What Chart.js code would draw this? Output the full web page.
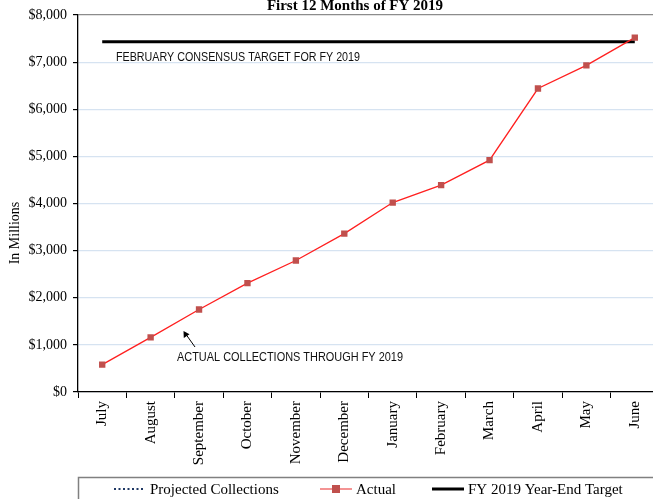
<!DOCTYPE html>
<html><head><meta charset="utf-8">
<script src="https://cdn.jsdelivr.net/npm/chart.js@4/dist/chart.umd.min.js"></script>
<style>html,body{margin:0;padding:0;background:#fff;overflow:hidden}#wrap{width:653px;height:499px;overflow:hidden;position:relative}canvas{display:block}</style>
</head><body><div id="wrap"><canvas id="c" width="665" height="499" style="width:665px;height:499px"></canvas></div>
<script>
const months = ["July","August","September","October","November","December","January","February","March","April","May","June"];
const actual = [580,1160,1750,2310,2790,3360,4020,4390,4920,6440,6930,7520];
const projected = [];
const yearEndTarget = [7430,7430,7430,7430,7430,7430,7430,7430,7430,7430,7430,7430];
const yTicks = [0,1000,2000,3000,4000,5000,6000,7000,8000];
const titleText = "First 12 Months of FY 2019";
const yTitle = "In Millions";
const noteTarget = "FEBRUARY CONSENSUS TARGET FOR FY 2019";
const noteActual = "ACTUAL COLLECTIONS THROUGH FY 2019";
const legendItems = ["Projected Collections","Actual","FY 2019 Year-End Target"];

const serif = '"Liberation Serif", "Times New Roman", serif';
const sans = '"Liberation Sans", Arial, sans-serif';

const extras = {
  id: 'extras',
  afterDraw(chart) {
    const ctx = chart.ctx;
    ctx.save();
    // title
    ctx.fillStyle = '#000';
    ctx.font = 'bold 15px ' + serif;
    ctx.textAlign = 'center';
    ctx.textBaseline = 'alphabetic';
    ctx.fillText(titleText, 355, 10);
    // y title
    ctx.save();
    ctx.translate(15, 233);
    ctx.rotate(-Math.PI/2);
    ctx.font = '14px ' + serif;
    ctx.textBaseline = 'middle';
    ctx.fillText(yTitle, 0, 0);
    ctx.restore();
    // notes
    ctx.font = '13px ' + sans;
    ctx.textAlign = 'left';
    ctx.textBaseline = 'middle';
    ctx.fillStyle = '#111';
    ctx.fillText(noteTarget, 116, 57, 244);
    ctx.fillText(noteActual, 177, 357, 226);
    // arrow
    ctx.strokeStyle = '#000';
    ctx.lineWidth = 1;
    ctx.beginPath();
    ctx.moveTo(195, 347);
    ctx.lineTo(185, 333);
    ctx.stroke();
    ctx.fillStyle = '#000';
    ctx.beginPath();
    ctx.moveTo(183.5, 331);
    ctx.lineTo(183.8, 338);
    ctx.lineTo(189.5, 334.2);
    ctx.closePath();
    ctx.fill();
    // legend box
    ctx.strokeStyle = '#808080';
    ctx.lineWidth = 1.5;
    ctx.strokeRect(78.5, 477.5, 640, 40);
    const ly = 489;
    ctx.font = '15px ' + serif;
    ctx.textBaseline = 'middle';
    ctx.fillStyle = '#000';
    // projected
    ctx.strokeStyle = '#1f3864';
    ctx.lineWidth = 2;
    ctx.setLineDash([2,2.5]);
    ctx.beginPath(); ctx.moveTo(114, ly); ctx.lineTo(144, ly); ctx.stroke();
    ctx.setLineDash([]);
    ctx.fillText(legendItems[0], 150, ly+1);
    // actual
    ctx.strokeStyle = '#f07070';
    ctx.lineWidth = 1.5;
    ctx.beginPath(); ctx.moveTo(320, ly); ctx.lineTo(352, ly); ctx.stroke();
    ctx.fillStyle = '#c0504d';
    ctx.fillRect(332, ly-4, 8, 8);
    ctx.fillStyle = '#000';
    ctx.fillText(legendItems[1], 356, ly+1);
    // target
    ctx.strokeStyle = '#000';
    ctx.lineWidth = 3;
    ctx.beginPath(); ctx.moveTo(432, ly); ctx.lineTo(464, ly); ctx.stroke();
    ctx.fillText(legendItems[2], 468, ly+1);
    ctx.restore();
  }
};

new Chart(document.getElementById('c'), {
  type: 'line',
  data: {
    labels: months,
    datasets: [
      { label: legendItems[0], data: projected, borderColor: '#1f3864', borderDash: [2,2], pointRadius: 0 },
      { label: legendItems[1], data: actual, borderColor: '#ff2020', borderWidth: 1.3, pointStyle: 'rect', pointRadius: 4.5, pointBackgroundColor: '#c0504d', pointBorderColor: '#c0504d', pointBorderWidth: 0, tension: 0, order: 1 },
      { label: legendItems[2], data: yearEndTarget, borderColor: '#000', borderWidth: 3, pointRadius: 0, tension: 0, order: 2 }
    ]
  },
  options: {
    responsive: false,
    animation: false,
    layout: { padding: { left: 0, top: 15, right: 6, bottom: 0 } },
    plugins: { legend: { display: false }, tooltip: { enabled: false } },
    scales: {
      x: {
        offset: true,
        grid: { offset: true, drawOnChartArea: false, drawTicks: true, tickLength: 6, color: '#000' },
        border: { color: '#000', width: 1.3 },
        ticks: { maxRotation: 90, minRotation: 90, autoSkip: false, color: '#000', font: { family: serif, size: 15 }, padding: 3 },
        afterFit(s) { s.height = 107; }
      },
      y: {
        min: 0, max: 8000,
        afterBuildTicks(s) { s.ticks = yTicks.map(v => ({ value: v })); },
        grid: { color: ctx => (ctx.tick && ctx.tick.value === 8000) ? '#8c8c8c' : '#d6e3f1', lineWidth: 1.2, tickColor: '#000', tickLength: 5 },
        border: { color: '#000', width: 1.3 },
        ticks: { color: '#000', font: { family: serif, size: 14 }, padding: 6, callback: v => '$' + Number(v).toLocaleString('en-US') },
        title: { display: false },
        afterFit(s) { s.width = 78; }
      }
    }
  },
  plugins: [extras]
});
</script></body></html>
